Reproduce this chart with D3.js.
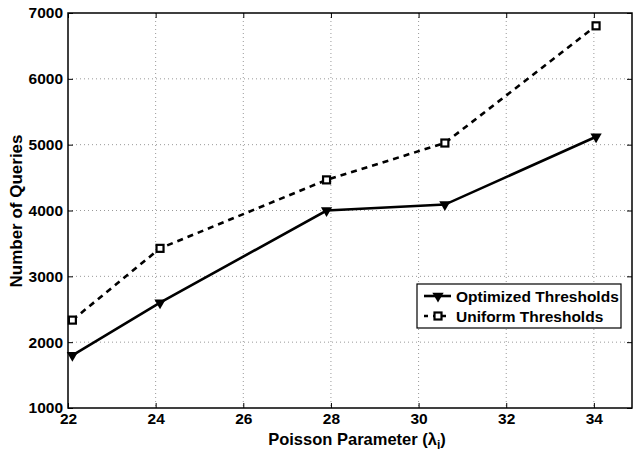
<!DOCTYPE html>
<html>
<head>
<meta charset="utf-8">
<script src="https://cdn.jsdelivr.net/npm/d3@7"></script>
<style>
  body { margin: 0; background: #fff; }
  text { font-family: "Liberation Sans", Arial, sans-serif; font-weight: bold; }
</style>
</head>
<body>
<figure id="chart" style="margin:0"></figure>
<script>
// values
const lambdas = [22.1, 24.1, 27.9, 30.6, 34.05];
const optimized = [1800, 2600, 4000, 4090, 5120];
const uniform = [2335, 3425, 4465, 5025, 6805];
const xTicks = [22, 24, 26, 28, 30, 32, 34];
const yTicks = [1000, 2000, 3000, 4000, 5000, 6000, 7000];

const W = 634, H = 451;
const axL = 68, axT = 13, axR = 632, axB = 408;

const svg = d3.select("#chart").append("svg")
  .attr("width", W).attr("height", H);

const x = d3.scaleLinear().domain([22, 34.87]).range([axL, axR]);
const y = d3.scaleLinear().domain([1000, 7000]).range([axB, axT]);

// grid
const grid = svg.append("g").attr("stroke", "#999").attr("stroke-width", 1)
  .attr("stroke-dasharray", "1,3");
grid.selectAll("line.vx").data(xTicks.slice(1)).enter().append("line")
  .attr("x1", d => x(d)).attr("x2", d => x(d))
  .attr("y1", axT).attr("y2", axB);
grid.selectAll("line.hy").data(yTicks.slice(1, -1)).enter().append("line")
  .attr("y1", d => y(d)).attr("y2", d => y(d))
  .attr("x1", axL).attr("x2", axR);

// axes (ticks inward)
svg.append("g").attr("transform", "translate(0," + axB + ")")
  .call(d3.axisBottom(x).tickValues(xTicks).tickSize(-5).tickPadding(5).tickFormat(d3.format("d")))
  .call(g => g.select(".domain").remove())
  .selectAll("text").attr("font-size", 15.5).attr("fill", "#000")
  .attr("font-family", "Liberation Sans, Arial, sans-serif");
svg.append("g").attr("transform", "translate(0," + axT + ")")
  .call(d3.axisTop(x).tickValues(xTicks).tickSize(-5).tickFormat(""))
  .call(g => g.select(".domain").remove());
svg.append("g").attr("transform", "translate(" + axL + ",0)")
  .call(d3.axisLeft(y).tickValues(yTicks).tickSize(-5).tickPadding(5).tickFormat(d3.format("d")))
  .call(g => g.select(".domain").remove())
  .selectAll("text").attr("font-size", 15.5).attr("fill", "#000")
  .attr("font-family", "Liberation Sans, Arial, sans-serif");
svg.append("g").attr("transform", "translate(" + axR + ",0)")
  .call(d3.axisRight(y).tickValues(yTicks).tickSize(-5).tickFormat(""))
  .call(g => g.select(".domain").remove());

svg.append("rect").attr("x", axL).attr("y", axT)
  .attr("width", axR - axL).attr("height", axB - axT)
  .attr("fill", "none").attr("stroke", "#000").attr("stroke-width", 1.5);

// lines
const line = d3.line().x((d, i) => x(lambdas[i])).y(d => y(d));
svg.append("path").datum(optimized).attr("d", line)
  .attr("fill", "none").attr("stroke", "#000").attr("stroke-width", 2.6);
svg.append("path").datum(uniform).attr("d", line)
  .attr("fill", "none").attr("stroke", "#000").attr("stroke-width", 2.6)
  .attr("stroke-dasharray", "6,5");

// markers
const tri = d3.symbol().type(d3.symbolTriangle).size(55);
svg.selectAll("path.tri").data(optimized).enter().append("path")
  .attr("d", tri)
  .attr("transform", (d, i) => "translate(" + x(lambdas[i]) + "," + y(d) + ") rotate(180)")
  .attr("fill", "#000");
svg.selectAll("rect.sq").data(uniform).enter().append("rect")
  .attr("x", (d, i) => x(lambdas[i]) - 3.5).attr("y", d => y(d) - 3.5)
  .attr("width", 7).attr("height", 7)
  .attr("fill", "#fff").attr("stroke", "#000").attr("stroke-width", 2.2);

// legend
const lg = svg.append("g").attr("transform", "translate(417,284)");
lg.append("rect").attr("width", 204).attr("height", 44)
  .attr("fill", "#fff").attr("stroke", "#000").attr("stroke-width", 1.2);
lg.append("line").attr("x1", 7).attr("x2", 34).attr("y1", 12).attr("y2", 12)
  .attr("stroke", "#000").attr("stroke-width", 2.6);
lg.append("path").attr("d", tri).attr("transform", "translate(21,12) rotate(180)");
lg.append("line").attr("x1", 7).attr("x2", 34).attr("y1", 32).attr("y2", 32)
  .attr("stroke", "#000").attr("stroke-width", 2.6).attr("stroke-dasharray", "4,5");
lg.append("rect").attr("x", 17.5).attr("y", 28.5).attr("width", 7).attr("height", 7)
  .attr("fill", "#fff").attr("stroke", "#000").attr("stroke-width", 2.2);
lg.append("text").attr("x", 39).attr("y", 17.5).attr("font-size", 15.5).text("Optimized Thresholds");
lg.append("text").attr("x", 39).attr("y", 37.5).attr("font-size", 15.5).text("Uniform Thresholds");

// axis labels
const xl = svg.append("text").attr("x", 357).attr("y", 445).attr("text-anchor", "middle")
  .attr("font-size", 16.5);
xl.append("tspan").text("Poisson Parameter (λ");
xl.append("tspan").attr("font-size", 12).attr("dy", 4).text("i");
xl.append("tspan").attr("dy", -4).text(")");

svg.append("text").attr("transform", "translate(22,211) rotate(-90)")
  .attr("text-anchor", "middle").attr("font-size", 17).text("Number of Queries");
</script>
</body>
</html>
